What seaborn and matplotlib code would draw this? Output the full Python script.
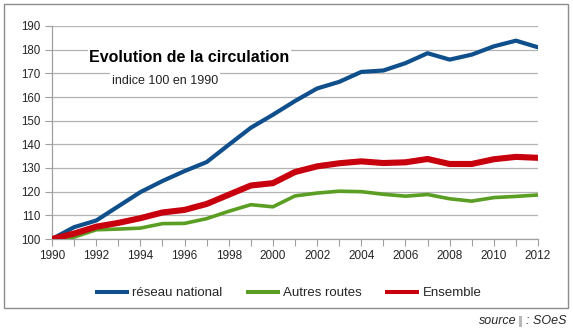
import matplotlib
matplotlib.use("Agg")
import matplotlib.pyplot as plt
import seaborn as sns
import pandas as pd
from matplotlib.patches import Rectangle
from matplotlib.lines import Line2D

years = list(range(1990, 2013))
reseau_national = [100, 105, 107.8, 113.8, 119.8, 124.5, 128.7, 132.5, 139.8, 147, 152.5,
                   158.3, 163.6, 166.4, 170.6, 171.2, 174.3, 178.5, 175.8, 177.9, 181.4, 183.8, 181]
autres_routes = [100, 100.8, 103.9, 104.2, 104.6, 106.5, 106.6, 108.6, 111.7, 114.5, 113.6,
                 118.2, 119.4, 120.2, 120.0, 118.9, 118.1, 118.8, 117.0, 116.0, 117.5, 118.0, 118.6]
ensemble = [100, 102.3, 105.2, 106.8, 108.8, 111.2, 112.3, 114.8, 118.7, 122.6, 123.6,
            128.3, 130.7, 132.0, 132.8, 132.1, 132.4, 133.8, 131.7, 131.7, 133.7, 134.7, 134.3]
series_names = ["réseau national", "Autres routes", "Ensemble"]
colors = ["#0f4f8b", "#5a9e24", "#c8000e"]
widths = [3.0, 2.6, 4.4]

df = pd.concat([
    pd.DataFrame({"année": years, "indice": vals, "série": name})
    for name, vals in zip(series_names, [reseau_national, autres_routes, ensemble])
])

sns.set_theme(style="white")
plt.rcParams["font.family"] = ["Liberation Sans", "DejaVu Sans"]

W, H = 573, 333
fig = plt.figure(figsize=(W / 100, H / 100), dpi=100)
ax = fig.add_axes([52 / W, 1 - 239 / H, (538 - 52) / W, (239 - 26) / H])

sns.lineplot(data=df, x="année", y="indice", hue="série", hue_order=series_names,
             palette=dict(zip(series_names, colors)), ax=ax, legend=False)
for line, lw in zip(ax.get_lines(), widths):
    line.set_linewidth(lw)
    line.set_solid_joinstyle("round")
    line.set_zorder(3)

ax.set_xlim(1990, 2012)
ax.set_ylim(100, 190)
ax.set_xticks(list(range(1990, 2013, 2)))
ax.set_xticks(years, minor=True)
ax.set_yticks(list(range(100, 191, 10)))
ax.tick_params(axis="x", which="both", direction="out", length=5, width=0.8,
               color="#a0a0a0", labelsize=8.5, pad=3, bottom=True)
ax.tick_params(axis="y", direction="out", length=5, width=0.8, color="#a0a0a0",
               labelsize=8.3, pad=3, left=True)
ax.set_xlabel("")
ax.set_ylabel("")
ax.grid(axis="y", color="#b3b3b3", linewidth=0.9)
ax.set_axisbelow(True)
for side in ["top", "right"]:
    ax.spines[side].set_visible(False)
for side in ["left", "bottom"]:
    ax.spines[side].set_color("#a0a0a0")
    ax.spines[side].set_linewidth(0.9)

# Title and subtitle with white background
fig.text(89 / W, 1 - 57.5 / H, "Evolution de la circulation", fontsize=11.5, fontweight="bold",
         va="center", ha="left", color="black",
         bbox=dict(facecolor="white", edgecolor="none", pad=1.0))
fig.text(112 / W, 1 - 80.5 / H, "indice 100 en 1990", fontsize=9, va="center", ha="left",
         color="#222222", bbox=dict(facecolor="white", edgecolor="none", pad=1.5))

# Legend
handles = [Line2D([0], [0], color=c, lw=2.9, solid_capstyle="butt") for c in colors]
fig.legend(handles, series_names, loc="center", bbox_to_anchor=(288 / W, 1 - 293 / H), ncol=3,
           frameon=False, fontsize=9.5, handlelength=2.6, handletextpad=0.25,
           columnspacing=1.75, borderpad=0.2)

# Border
fig.patches.append(Rectangle((4 / W, 1 - 308 / H), (568 - 4) / W, (308 - 4) / H,
                             transform=fig.transFigure, fill=False, edgecolor="#8c8c8c",
                             linewidth=1.0))

fig.text(517 / W, 1 - 321 / H, "source", fontsize=9, style="italic",
         ha="right", va="center")
fig.patches.append(Rectangle((518.5 / W, 1 - 327 / H), 3 / W, 11 / H,
                             transform=fig.transFigure, facecolor="#b8b8b8", edgecolor="none"))
fig.text(566 / W, 1 - 321 / H, ": SOeS", fontsize=9, style="italic",
         ha="right", va="center")

fig.savefig("out.png", dpi=100)
